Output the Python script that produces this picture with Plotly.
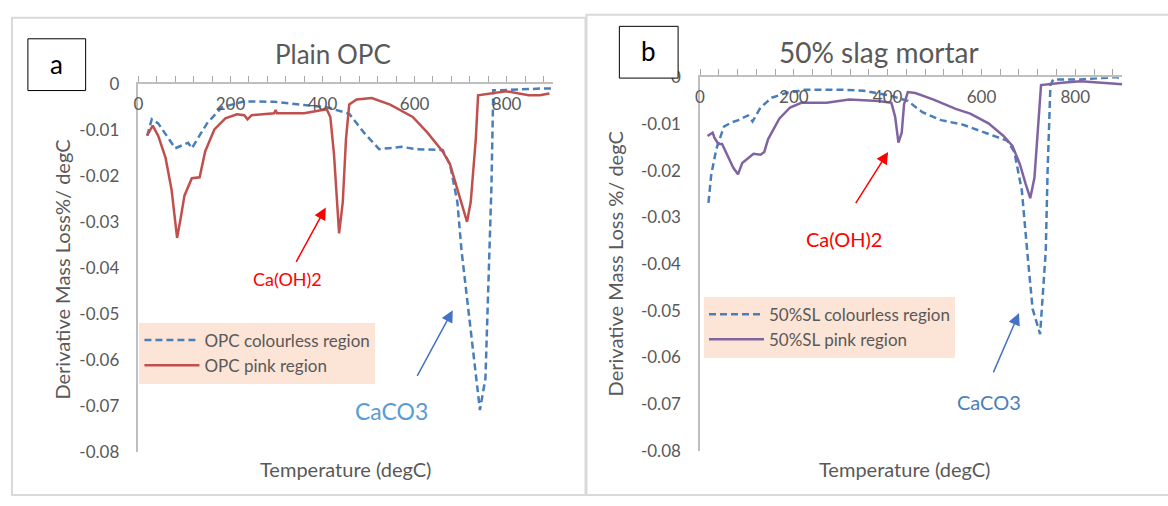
import plotly.graph_objects as go

W, H = 1168, 506

# ---------------- data ----------------
opc_colourless_T = [19, 29, 43, 80, 108, 116, 149, 181, 230, 295, 360, 409, 458, 490, 523, 572, 604, 661, 677, 693,
                    702, 726, 742, 754, 763, 767, 771, 783, 880, 900]
opc_colourless_v = [-0.0113, -0.0077, -0.0086, -0.014, -0.0128, -0.014, -0.0086, -0.0051, -0.0038, -0.0039,
                    -0.0046, -0.0051, -0.0065, -0.0106, -0.0142, -0.0137, -0.0142, -0.0144, -0.0175, -0.0257,
                    -0.0362, -0.057, -0.0709, -0.064, -0.036, -0.0223, -0.0014, -0.0014, -0.001, -0.001]

opc_pink_T = [19, 31, 43, 59, 72, 84, 92, 100, 116, 133, 145, 165, 189, 214, 230, 237, 246, 295, 298, 301,
              360, 409, 417, 425, 436, 444, 451, 458, 474, 507, 547, 596, 628, 661, 677, 693, 714, 722, 733, 738,
              767, 799, 848, 872, 893]
opc_pink_v = [-0.0112, -0.0091, -0.0113, -0.0161, -0.023, -0.0335, -0.0291, -0.0243, -0.0205, -0.0203,
              -0.0147, -0.0099, -0.0075, -0.0066, -0.0068, -0.0077, -0.0068, -0.0064, -0.0057, -0.0064,
              -0.0064, -0.0055, -0.0072, -0.0154, -0.0325, -0.0257, -0.012, -0.0045, -0.0034, -0.0031,
              -0.0045, -0.0072, -0.0106, -0.0147, -0.0175, -0.0229, -0.030, -0.0257, -0.012, -0.0025,
              -0.0021, -0.0016, -0.0025, -0.0025, -0.0021]

sl_colourless_T = [18, 24, 35, 51, 67, 82, 102, 112, 129, 153, 184, 223, 302, 349, 404, 443, 474, 514, 561, 600,
                   631, 655, 670, 686, 698, 709, 725, 733, 737, 741, 747, 753, 811, 886, 900]
sl_colourless_v = [-0.0269, -0.0208, -0.0153, -0.0106, -0.0097, -0.0092, -0.0082, -0.0095, -0.0065, -0.0044,
                   -0.0034, -0.0027, -0.0027, -0.0029, -0.0039, -0.0051, -0.0075, -0.0092, -0.0102, -0.0116,
                   -0.0127, -0.0136, -0.016, -0.0242, -0.0378, -0.0496, -0.055, -0.0441, -0.0373, -0.0201,
                   -0.0017, -0.0005, -0.0005, 0.0, -0.0003]

sl_pink_T = [16, 22, 27, 31, 39, 47, 59, 71, 81, 90, 114, 129, 137, 145, 169, 192, 216, 270, 318, 380,
             408, 416, 423, 430, 435, 443, 459, 498, 545, 576, 615, 647, 666, 682, 694, 704, 713, 721, 727, 772,
             811, 886, 900]
sl_pink_v = [-0.0126, -0.0123, -0.0119, -0.013, -0.0143, -0.0143, -0.0167, -0.0194, -0.0208, -0.0184,
             -0.0164, -0.0166, -0.016, -0.0133, -0.0089, -0.0065, -0.0055, -0.0055, -0.0048, -0.0051,
             -0.0055, -0.0085, -0.014, -0.0119, -0.0058, -0.0032, -0.0034, -0.0048, -0.0068, -0.0078,
             -0.0099, -0.0126, -0.0147, -0.0187, -0.0228, -0.0259, -0.0215, -0.0099, -0.0017, -0.0012,
             -0.0009, -0.0014, -0.0015]

x_tickvals = [0, 200, 400, 600, 800]
x_ticktext = ["0", "200", "400", "600", "800"]
y_tickvals = [0, -0.01, -0.02, -0.03, -0.04, -0.05, -0.06, -0.07, -0.08]
y_ticktext = ["0", "-0.01", "-0.02", "-0.03", "-0.04", "-0.05", "-0.06", "-0.07", "-0.08"]

# annotation anchor points (data units)
ann_a_caoh = dict(text_T=324, text_v=-0.0425, tail_T=341, tail_v=-0.039, head_T=407, head_v=-0.0269)
ann_a_caco3 = dict(text_T=550, text_v=-0.0712, tail_T=604, tail_v=-0.0638, head_T=683, head_v=-0.0492)
ann_b_caoh = dict(text_T=307, text_v=-0.0347, tail_T=330, tail_v=-0.0273, head_T=401, head_v=-0.016)
ann_b_caco3 = dict(text_T=617, text_v=-0.0696, tail_T=624, tail_v=-0.0635, head_T=680, head_v=-0.0505)

# ---------------- styling ----------------
FONT = "Lato"
GRAY = "#595959"
AXIS = "#bfbfbf"
BLUE = "#4a7ebb"
RED = "#c0504d"
PURPLE = "#8064a2"
PEACH = "#fce4d6"


def px(x):
    return x / W


def py(y):
    return 1 - y / H


fig = go.Figure()

fig.add_trace(go.Scatter(x=opc_colourless_T, y=opc_colourless_v, mode="lines", name="OPC colourless region",
                         line=dict(color=BLUE, width=2.5, dash="7px,4px"), xaxis="x", yaxis="y", legend="legend"))
fig.add_trace(go.Scatter(x=opc_pink_T, y=opc_pink_v, mode="lines", name="OPC pink region",
                         line=dict(color=RED, width=2.5), xaxis="x", yaxis="y", legend="legend"))
fig.add_trace(go.Scatter(x=sl_colourless_T, y=sl_colourless_v, mode="lines", name="50%SL colourless region",
                         line=dict(color=BLUE, width=2.5, dash="7px,4px"), xaxis="x2", yaxis="y2", legend="legend2"))
fig.add_trace(go.Scatter(x=sl_pink_T, y=sl_pink_v, mode="lines", name="50%SL pink region",
                         line=dict(color=PURPLE, width=2.5), xaxis="x2", yaxis="y2", legend="legend2"))

# panel geometry (pixels)
A = dict(x0=134, x1=550, y0=76, y1=460)
B = dict(x0=698, x1=1122, y0=69, y1=459)


def xaxis_cfg(P, anchor):
    return dict(domain=[px(P["x0"]), px(P["x1"])], anchor=anchor, side="top", range=[0, 900],
                showline=True, linecolor=AXIS, linewidth=1.5, showgrid=False, zeroline=False,
                tickvals=x_tickvals, ticktext=x_ticktext, ticks="outside", ticklen=6, tickcolor="#a6a6a6",
                tickwidth=1, ticklabelposition="inside", ticklabeloverflow="allow", ticklabelstandoff=15,
                tickfont=dict(family=FONT, size=17, color=GRAY),
                minor=dict(dtick=40, tick0=0, ticks="outside", ticklen=6, tickcolor="#a6a6a6", tickwidth=1,
                           showgrid=False))


def yaxis_cfg(P, anchor):
    return dict(domain=[py(P["y1"]), py(P["y0"])], anchor=anchor, range=[-0.08, 0],
                showline=True, linecolor=AXIS, linewidth=1.5, showgrid=False, zeroline=False,
                tickvals=y_tickvals, ticktext=y_ticktext, ticks="", ticklabelstandoff=14,
                tickfont=dict(family=FONT, size=17, color=GRAY))


fig.update_layout(
    width=W, height=H, margin=dict(l=0, r=0, t=0, b=0),
    paper_bgcolor="white", plot_bgcolor="rgba(0,0,0,0)",
    xaxis=xaxis_cfg(A, "y"), yaxis=yaxis_cfg(A, "x"),
    xaxis2=xaxis_cfg(B, "y2"), yaxis2=yaxis_cfg(B, "x2"),
    legend=dict(x=px(135), y=py(325), xanchor="left", yanchor="top", bgcolor=PEACH,
                font=dict(family=FONT, size=17, color=GRAY), tracegroupgap=0, itemwidth=55,
                borderwidth=0),
    legend2=dict(x=px(702), y=py(298), xanchor="left", yanchor="top", bgcolor=PEACH,
                 font=dict(family=FONT, size=17, color=GRAY), tracegroupgap=0, itemwidth=55,
                 borderwidth=0),
    showlegend=True,
)

shapes = [
    # panel frames
    dict(type="rect", xref="paper", yref="paper", x0=px(7), x1=px(583), y0=py(505), y1=py(7),
         line=dict(color="#d9d9d9", width=2)),
    dict(type="rect", xref="paper", yref="paper", x0=px(584), x1=px(1175), y0=py(505), y1=py(4),
         line=dict(color="#d9d9d9", width=2)),
    # label boxes
    dict(type="rect", xref="paper", yref="paper", x0=px(23), x1=px(81), y0=py(83), y1=py(29),
         line=dict(color="black", width=1), fillcolor="white"),
    dict(type="rect", xref="paper", yref="paper", x0=px(617), x1=px(676), y0=py(70), y1=py(16),
         line=dict(color="black", width=1), fillcolor="white"),
]
fig.update_layout(shapes=shapes)


def paper_text(text, x, y, size, color, angle=0):
    return dict(text=text, x=px(x), y=py(y), xref="paper", yref="paper", showarrow=False,
                xanchor="center", yanchor="middle", textangle=angle,
                font=dict(family=FONT, size=size, color=color))


annotations = [
    paper_text("a", 52, 55, 26, "black"),
    paper_text("b", 646.5, 42, 26, "black"),
    paper_text("Plain OPC", 329, 45, 26, GRAY),
    paper_text("50% slag mortar", 878, 43, 28, GRAY),
    paper_text("Temperature (degC)", 342, 478, 20, GRAY),
    paper_text("Temperature (degC)", 903, 478, 20, GRAY),
    paper_text("Derivative Mass Loss%/ degC", 57, 270, 20, GRAY, -90),
    paper_text("Derivative Mass Loss %/ degC", 613, 264, 20, GRAY, -90),
]


def arrow_ann(d, xr, yr, color):
    return dict(x=d["head_T"], y=d["head_v"], ax=d["tail_T"], ay=d["tail_v"], xref=xr, yref=yr,
                axref=xr, ayref=yr, text="", showarrow=True, arrowhead=2, arrowsize=1.6, arrowwidth=1.5,
                arrowcolor=color)


def text_ann(d, xr, yr, text, color, size):
    return dict(x=d["text_T"], y=d["text_v"], xref=xr, yref=yr, text=text, showarrow=False,
                xanchor="center", yanchor="middle",
                font=dict(family=FONT, size=size, color=color))


annotations += [
    arrow_ann(ann_a_caoh, "x", "y", "#ff0000"),
    text_ann(ann_a_caoh, "x", "y", "Ca(OH)2", "#ff0000", 18),
    arrow_ann(ann_a_caco3, "x", "y", "#4472c4"),
    text_ann(ann_a_caco3, "x", "y", "CaCO3", "#5b9bd5", 23),
    arrow_ann(ann_b_caoh, "x2", "y2", "#ff0000"),
    text_ann(ann_b_caoh, "x2", "y2", "Ca(OH)2", "#ff0000", 20),
    arrow_ann(ann_b_caco3, "x2", "y2", "#4472c4"),
    text_ann(ann_b_caco3, "x2", "y2", "CaCO3", "#4a7ebb", 20),
]
fig.update_layout(annotations=annotations)

fig.write_html("out.html", config={"displayModeBar": False},
               post_script="document.body.style.margin='0';document.body.style.overflow='hidden';")
